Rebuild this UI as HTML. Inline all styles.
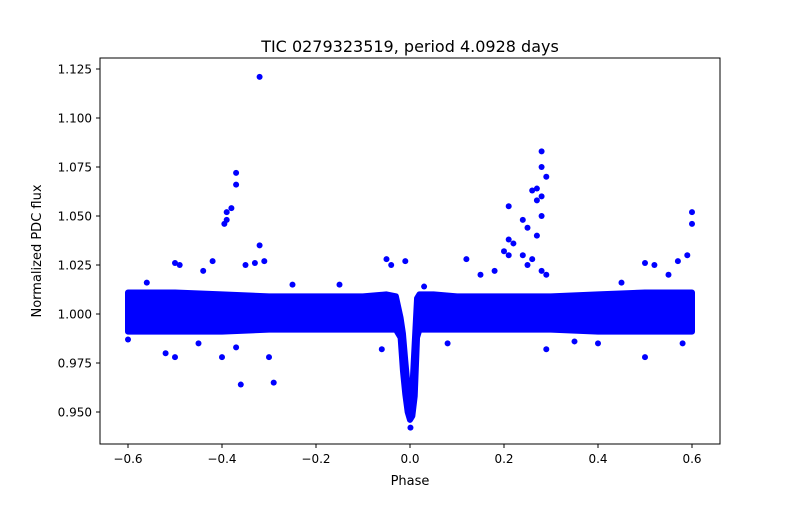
<!DOCTYPE html>
<html><head><meta charset="utf-8"><style>
body{margin:0;background:#fff}
svg text{font-family:"DejaVu Sans","Liberation Sans",sans-serif;fill:#000}
</style></head><body>
<svg id="chart" width="800" height="500" xmlns="http://www.w3.org/2000/svg">
<rect width="800" height="500" fill="#fff"/>
<text x="410" y="52" font-size="16" text-anchor="middle">TIC 0279323519, period 4.0928 days</text>
<g id="marks"></g>
<rect x="100" y="58" width="620" height="386" fill="none" stroke="#000" stroke-width="1"/>
<g id="axes"></g>
<text x="410" y="485" font-size="13" text-anchor="middle">Phase</text>
<text transform="translate(41,251) rotate(-90)" font-size="13" text-anchor="middle">Normalized PDC flux</text>
</svg>
<script>
const bandPhase=[-0.6,-0.5,-0.4,-0.3,-0.2,-0.1,-0.05,-0.03,-0.02,-0.015,-0.01,-0.005,0,0.005,0.01,0.015,0.02,0.05,0.1,0.2,0.3,0.4,0.5,0.6];
const bandUpper=[1.011,1.011,1.010,1.009,1.009,1.009,1.010,1.009,0.998,0.990,0.976,0.963,0.956,0.962,0.985,1.008,1.010,1.010,1.009,1.009,1.009,1.010,1.011,1.011];
const bandLower=[0.991,0.991,0.991,0.992,0.992,0.992,0.992,0.992,0.988,0.971,0.959,0.950,0.946,0.948,0.958,0.988,0.992,0.992,0.992,0.992,0.992,0.991,0.991,0.991];
const outPhase=[-0.32,-0.37,-0.37,-0.38,-0.39,-0.39,-0.395,-0.32,0.28,0.28,0.29,0.27,0.26,0.28,0.27,0.21,0.28,0.24,0.25,0.27,0.21,0.22,0.2,0.21,0.24,0.26,0.25,0.28,0.29,0.6,0.6,0.59,-0.36,-0.29,-0.3,-0.5,-0.52,0.5,0.29,-0.06,-0.05,-0.04,0.12,-0.5,-0.49,0.5,0.52,0.57,-0.42,-0.44,-0.35,-0.33,-0.31,-0.56,0.55,0.15,0.18,-0.6,0.58,-0.4,-0.37,0.08,0.4,-0.01,0.001,-0.45,0.45,-0.25,0.35,-0.15,0.03];
const outFlux=[1.121,1.072,1.066,1.054,1.052,1.048,1.046,1.035,1.083,1.075,1.07,1.064,1.063,1.06,1.058,1.055,1.05,1.048,1.044,1.04,1.038,1.036,1.032,1.03,1.03,1.028,1.025,1.022,1.02,1.052,1.046,1.03,0.964,0.965,0.978,0.978,0.98,0.978,0.982,0.982,1.028,1.025,1.028,1.026,1.025,1.026,1.025,1.027,1.027,1.022,1.025,1.026,1.027,1.016,1.02,1.02,1.022,0.987,0.985,0.978,0.983,0.985,0.985,1.027,0.942,0.985,1.016,1.015,0.986,1.015,1.014];
const xTicks=[-0.6,-0.4,-0.2,0,0.2,0.4,0.6];
const xTickLabels=["−0.6","−0.4","−0.2","0.0","0.2","0.4","0.6"];
const yTicks=[0.95,0.975,1.0,1.025,1.05,1.075,1.1,1.125];
const yTickLabels=["0.950","0.975","1.000","1.025","1.050","1.075","1.100","1.125"];
const X=p=>410+p*470, Y=f=>314-(f-1)*1960;
const NS="http://www.w3.org/2000/svg";
const marks=document.getElementById('marks'), axes=document.getElementById('axes');
let pts=bandPhase.map((p,i)=>X(p)+','+Y(bandUpper[i]));
for(let i=bandPhase.length-1;i>=0;i--)pts.push(X(bandPhase[i])+','+Y(bandLower[i]));
const band=document.createElementNS(NS,'polygon');


band.setAttribute('points',pts.join(' '));
band.setAttribute('fill','#0000ff');band.setAttribute('stroke','#0000ff');
band.setAttribute('stroke-width','6');band.setAttribute('stroke-linejoin','round');
marks.appendChild(band);
outPhase.forEach((p,i)=>{
 const c=document.createElementNS(NS,'circle');
 
 
 c.setAttribute('cx',X(p));c.setAttribute('cy',Y(outFlux[i]));c.setAttribute('r',3);c.setAttribute('fill','#0000ff');
 marks.appendChild(c);
});
xTicks.forEach((t,i)=>{
 const l=document.createElementNS(NS,'line');
 
 
 l.setAttribute('x1',X(t));l.setAttribute('x2',X(t));l.setAttribute('y1',444);l.setAttribute('y2',448);l.setAttribute('stroke','#000');
 axes.appendChild(l);
 const tx=document.createElementNS(NS,'text');
 
 
 tx.setAttribute('x',X(t));tx.setAttribute('y',463);tx.setAttribute('font-size','12');tx.setAttribute('text-anchor','middle');
 tx.textContent=xTickLabels[i];axes.appendChild(tx);
});
yTicks.forEach((t,i)=>{
 const l=document.createElementNS(NS,'line');
 
 
 l.setAttribute('x1',96);l.setAttribute('x2',100);l.setAttribute('y1',Y(t));l.setAttribute('y2',Y(t));l.setAttribute('stroke','#000');
 axes.appendChild(l);
 const tx=document.createElementNS(NS,'text');
 
 
 tx.setAttribute('x',92);tx.setAttribute('y',Y(t)+4.5);tx.setAttribute('font-size','12');tx.setAttribute('text-anchor','end');
 tx.textContent=yTickLabels[i];axes.appendChild(tx);
});
</script>
</body></html>
